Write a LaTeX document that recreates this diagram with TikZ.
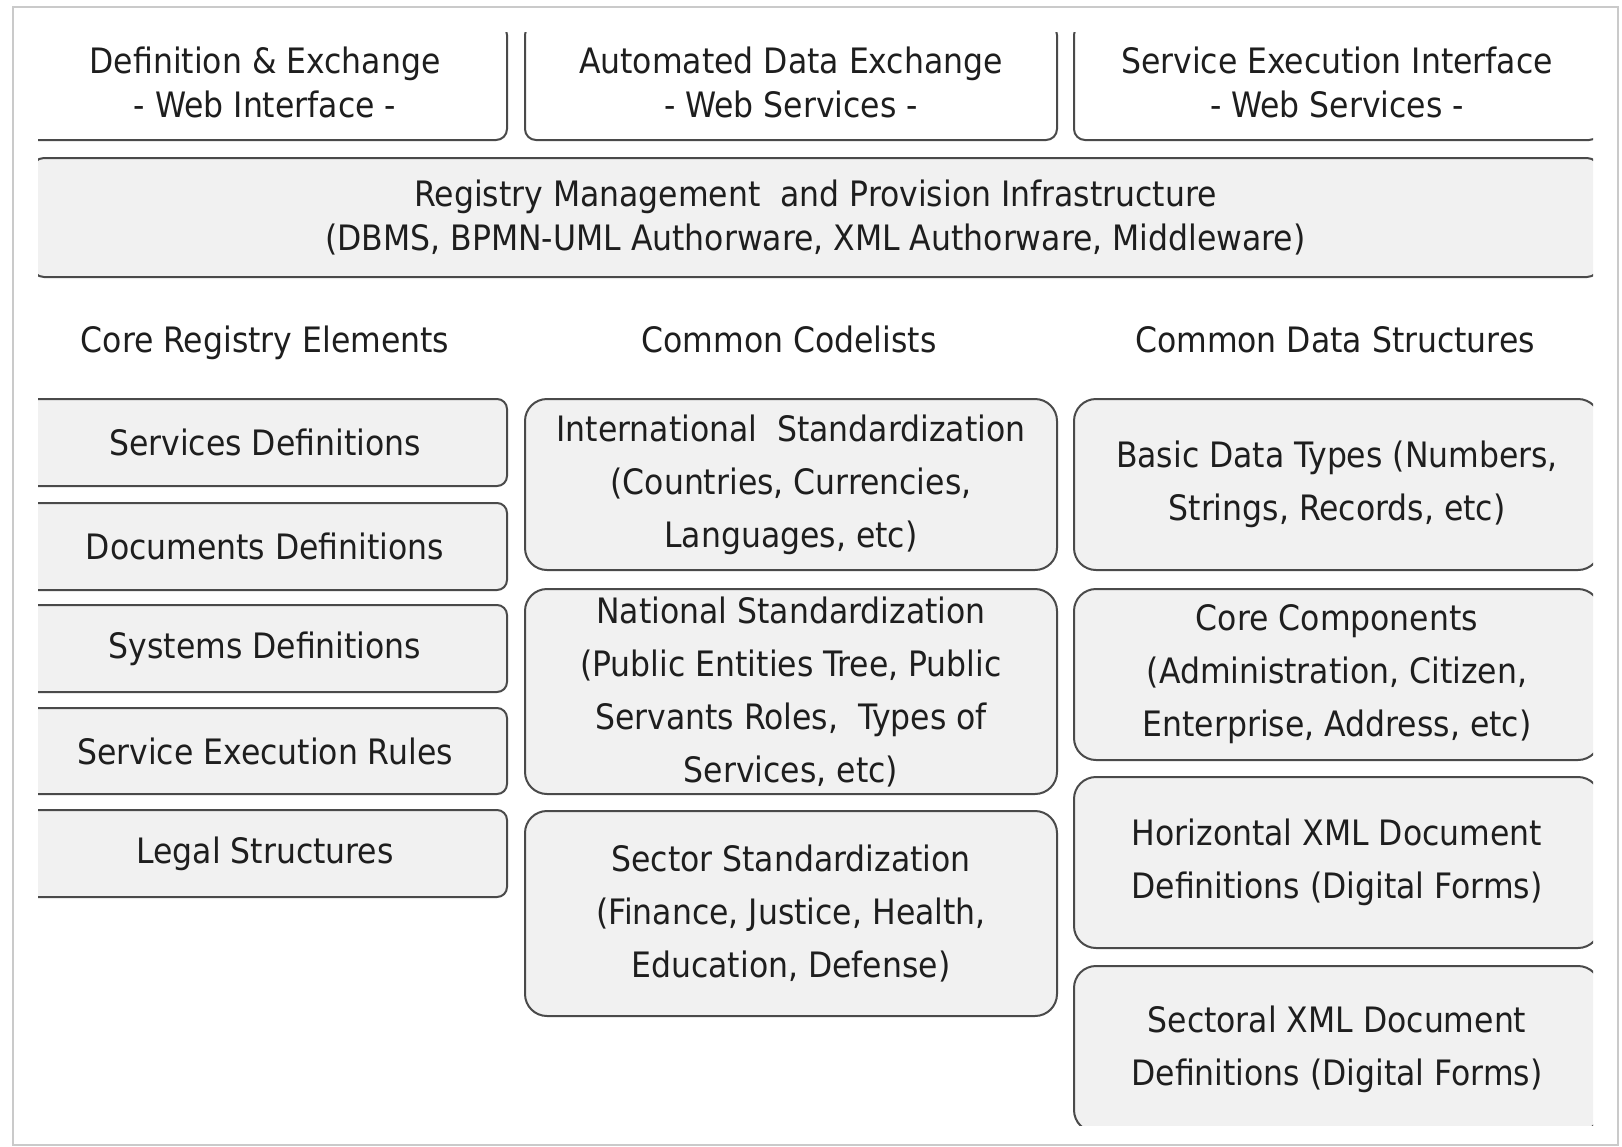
\documentclass[tikz,border=0pt]{standalone}
\usepackage{fontspec}
\setmainfont{DejaVu Sans Condensed}
\definecolor{boxline}{HTML}{4A4A4A}
\definecolor{boxfill}{HTML}{F1F1F1}
\definecolor{txt}{HTML}{1E1E1E}
\definecolor{framegray}{HTML}{CACACA}
\begin{document}
\begin{tikzpicture}[x=0.5pt,y=-0.5pt,
  base/.style={draw=boxline,line width=1pt,align=center,inner sep=0pt,text=txt},
  topbox/.style={base,fill=white,rounded corners=5.5pt,font=\fontsize{17.5}{22}\selectfont},
  regbox/.style={base,fill=boxfill,rounded corners=6pt,font=\fontsize{17.5}{22}\selectfont},
  smallbox/.style={base,fill=boxfill,rounded corners=5pt,font=\fontsize{17.5}{26.5}\selectfont},
  bigbox/.style={base,fill=boxfill,rounded corners=11pt,font=\fontsize{17.5}{26.5}\selectfont},
  header/.style={text=txt,inner sep=0pt,anchor=base,font=\fontsize{17.5}{22}\selectfont}]
\useasboundingbox[fill=white] (0,0) rectangle (1622,1146);
\draw[framegray,line width=1pt] (13,7) rectangle (1618,1145);
\begin{scope}
\clip (38,32) rectangle (1593,1125);
% top row
\node[topbox,minimum width=242pt,minimum height=58pt] (t1) at (265,82) {Definition \& Exchange\\- Web Interface -};
\node[topbox,minimum width=266pt,minimum height=58pt] (t2) at (791,82) {Automated Data Exchange\\- Web Services -};
\node[topbox,minimum width=263pt,minimum height=58pt] (t3) at (1337,82) {Service Execution Interface\\- Web Services -};
% registry
\node[regbox,minimum width=783.5pt,minimum height=59.5pt] (reg) at (815.5,217.5) {Registry Management\ \ and Provision Infrastructure\\(DBMS, BPMN-UML Authorware, XML Authorware, Middleware)};
% left column
\node[smallbox,minimum width=242pt,minimum height=43.5pt] (l1) at (265,442.5) {Services Definitions};
\node[smallbox,minimum width=242pt,minimum height=43.5pt] (l2) at (265,546.5) {Documents Definitions};
\node[smallbox,minimum width=242pt,minimum height=43.5pt] (l3) at (265,648.5) {Systems Definitions};
\node[smallbox,minimum width=242pt,minimum height=43pt] (l4) at (265,751) {Service Execution Rules};
\node[smallbox,minimum width=242pt,minimum height=43.5pt] (l5) at (265,853.5) {Legal Structures};
% middle column
\node[bigbox,minimum width=266pt,minimum height=85.5pt] (m1) at (791,484.5) {International\ \ Standardization\\(Countries, Currencies,\\Languages, etc)};
\node[bigbox,minimum width=266pt,minimum height=102.5pt] (m2) at (791,691.5) {National Standardization\\(Public Entities Tree, Public\\Servants Roles,\ \ Types of\\Services, etc)};
\node[bigbox,minimum width=266pt,minimum height=102.5pt] (m3) at (791,913.5) {Sector Standardization\\(Finance, Justice, Health,\\Education, Defense)};
% right column
\node[bigbox,minimum width=263pt,minimum height=85.5pt] (r1) at (1337,484.5) {Basic Data Types (Numbers,\\Strings, Records, etc)};
\node[bigbox,minimum width=263pt,minimum height=85.5pt] (r2) at (1337,674.5) {Core Components\\(Administration, Citizen,\\Enterprise, Address, etc)};
\node[bigbox,minimum width=263pt,minimum height=85.5pt] (r3) at (1337,862.5) {Horizontal XML Document\\Definitions (Digital Forms)};
\node[bigbox,minimum width=263pt,minimum height=83pt] (r4) at (1337,1049) {Sectoral XML Document\\Definitions (Digital Forms)};
\end{scope}
% headers
\node[header] (h1) at (265,352) {Core Registry Elements};
\node[header] (h2) at (789,352) {Common Codelists};
\node[header] (h3) at (1335,352) {Common Data Structures};
\end{tikzpicture}
\end{document}
